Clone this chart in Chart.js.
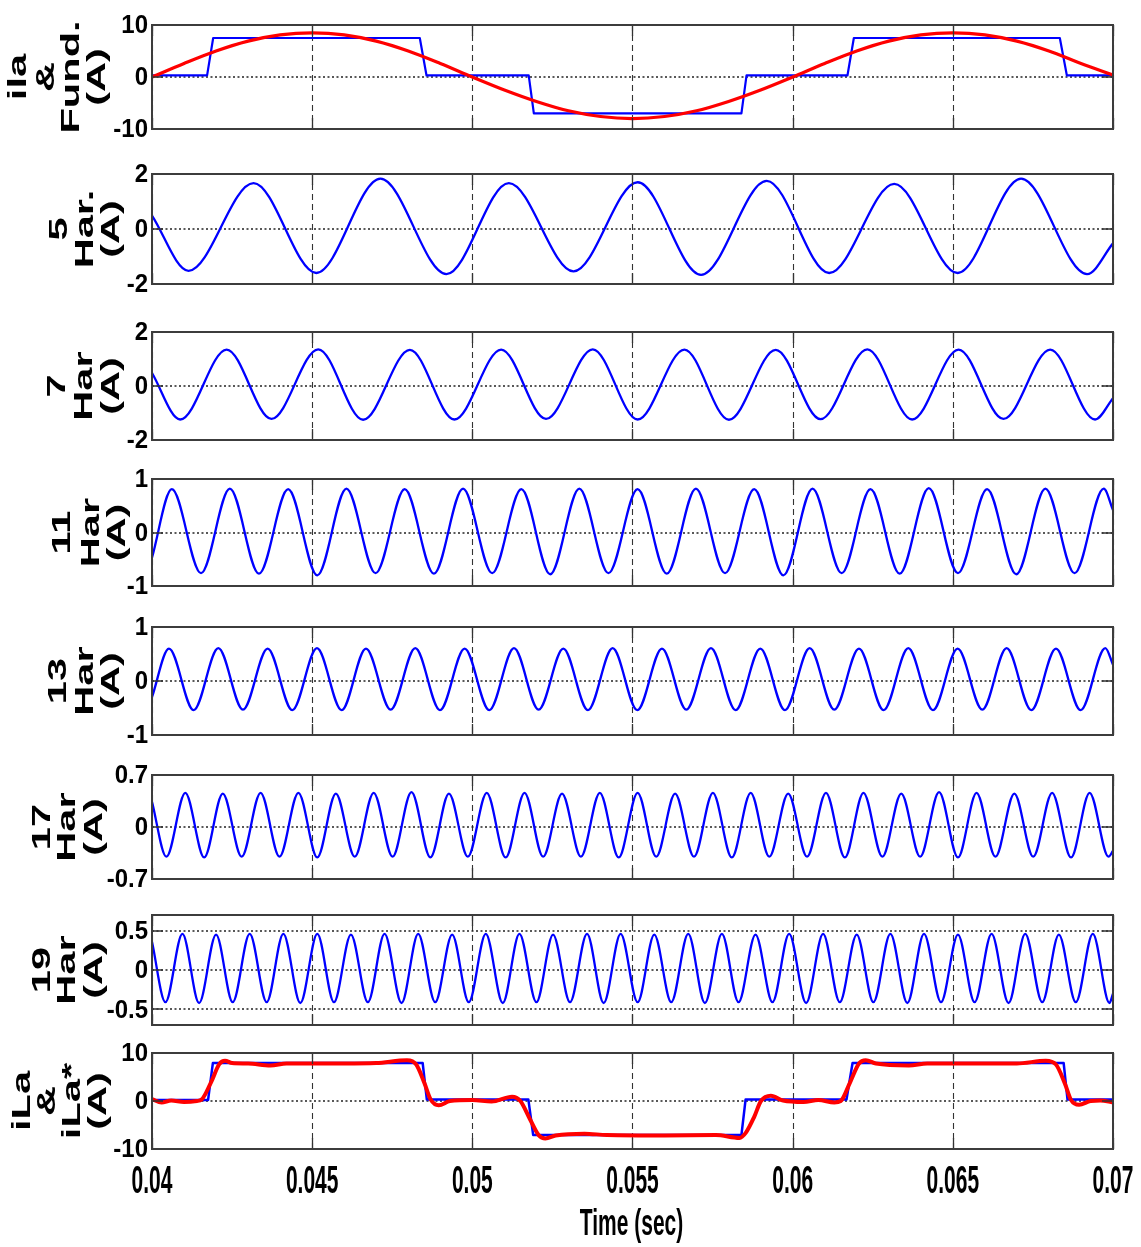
<!DOCTYPE html>
<html>
<head>
<meta charset="utf-8">
<script src="https://cdn.jsdelivr.net/npm/chart.js"></script>
<style>
  html, body { margin: 0; padding: 0; background: #fff; }
  #wrap { position: relative; width: 1141px; height: 1247px; overflow: hidden; background: #fff; }
  #wrap canvas { position: absolute; left: 0; }
</style>
</head>
<body>
<div id="wrap"></div>
<script>
// ---- time axis -------------------------------------------------------------
const timeTicks = [0.04, 0.045, 0.05, 0.055, 0.06, 0.065, 0.07];
const timeTickLabels = ['0.04', '0.045', '0.05', '0.055', '0.06', '0.065', '0.07'];
const timeTitle = 'Time (sec)';

// ---- panel 1: load current ila and its fundamental ------------------------
const ilaTime = [0.04000, 0.04172, 0.04191, 0.04836, 0.04857, 0.05176, 0.05192, 0.05840, 0.05856, 0.06171, 0.06191, 0.06834, 0.06856, 0.07000];
const ilaAmp  = [0.3, 0.3, 7.5, 7.5, 0.3, 0.3, -7.0, -7.0, 0.3, 0.3, 7.5, 7.5, 0.3, 0.3];
const fundTime = [0.040, 0.041, 0.042, 0.043, 0.044, 0.045, 0.046, 0.047, 0.048, 0.049, 0.050,
                  0.051, 0.052, 0.053, 0.054, 0.055, 0.056, 0.057, 0.058, 0.059, 0.060,
                  0.061, 0.062, 0.063, 0.064, 0.065, 0.066, 0.067, 0.068, 0.069, 0.070];
const fundAmp  = [0, 2.6, 5.0, 6.9, 8.1, 8.5, 8.1, 6.9, 5.0, 2.6, 0,
                  -2.5, -4.7, -6.5, -7.6, -8.0, -7.6, -6.5, -4.7, -2.5, 0,
                  2.6, 5.0, 6.9, 8.1, 8.5, 8.1, 6.9, 5.0, 2.6, 0.4];
const currentTicks = [-10, 0, 10];
const currentTickLabels = ['-10', '0', '10'];

// ---- harmonic components: end values and successive peaks / troughs -------
const h5Time = [0.04000, 0.04114, 0.04317, 0.04513, 0.04713, 0.04919, 0.05114, 0.05316, 0.05516,
                0.05714, 0.05919, 0.06114, 0.06317, 0.06515, 0.06713, 0.06919, 0.07000];
const h5Amp  = [0.49, -1.52, 1.67, -1.60, 1.83, -1.64, 1.67, -1.54, 1.70,
                -1.67, 1.75, -1.60, 1.64, -1.60, 1.83, -1.64, -0.52];
const h5Ticks = [-2, 0, 2];
const h5TickLabels = ['-2', '0', '2'];

const h7Time = [0.04000, 0.04088, 0.04233, 0.04373, 0.04519, 0.04659, 0.04805, 0.04944, 0.05090, 0.05230,
                0.05376, 0.05516, 0.05662, 0.05801, 0.05947, 0.06087, 0.06233, 0.06373, 0.06518, 0.06658,
                0.06804, 0.06944, 0.07000];
const h7Amp  = [0.48, -1.24, 1.35, -1.22, 1.36, -1.25, 1.34, -1.24, 1.35, -1.22,
                1.36, -1.24, 1.35, -1.25, 1.34, -1.23, 1.36, -1.24, 1.35, -1.22,
                1.35, -1.24, -0.45];
const h7Ticks = [-2, 0, 2];
const h7TickLabels = ['-2', '0', '2'];

const h11Time = [0.04000, 0.04062, 0.04153, 0.04243, 0.04334, 0.04425, 0.04516, 0.04607, 0.04698, 0.04789,
                 0.04880, 0.04971, 0.05062, 0.05153, 0.05243, 0.05334, 0.05425, 0.05516, 0.05607, 0.05698,
                 0.05789, 0.05880, 0.05971, 0.06062, 0.06153, 0.06243, 0.06334, 0.06425, 0.06516, 0.06607,
                 0.06698, 0.06789, 0.06880, 0.06971, 0.07000];
const h11Amp  = [-0.47, 0.81, -0.76, 0.82, -0.77, 0.81, -0.80, 0.82, -0.76, 0.81,
                 -0.77, 0.82, -0.76, 0.81, -0.78, 0.82, -0.76, 0.81, -0.77, 0.82,
                 -0.76, 0.81, -0.80, 0.82, -0.76, 0.81, -0.77, 0.83, -0.76, 0.81,
                 -0.78, 0.82, -0.76, 0.82, 0.42];
const h11Ticks = [-1, 0, 1];
const h11TickLabels = ['-1', '0', '1'];

const h13Time = [0.04000, 0.04053, 0.04130, 0.04207, 0.04284, 0.04361, 0.04438, 0.04515, 0.04592, 0.04668,
                 0.04745, 0.04822, 0.04899, 0.04976, 0.05053, 0.05130, 0.05207, 0.05284, 0.05361, 0.05438,
                 0.05515, 0.05592, 0.05668, 0.05745, 0.05822, 0.05899, 0.05976, 0.06053, 0.06130, 0.06207,
                 0.06284, 0.06361, 0.06438, 0.06515, 0.06592, 0.06668, 0.06745, 0.06822, 0.06899, 0.06976,
                 0.07000];
const h13Amp  = [-0.30, 0.60, -0.54, 0.61, -0.53, 0.60, -0.54, 0.61, -0.54, 0.60,
                 -0.53, 0.61, -0.54, 0.60, -0.54, 0.61, -0.53, 0.60, -0.54, 0.61,
                 -0.54, 0.60, -0.53, 0.61, -0.54, 0.60, -0.54, 0.61, -0.53, 0.60,
                 -0.54, 0.61, -0.54, 0.60, -0.53, 0.61, -0.54, 0.60, -0.54, 0.61,
                 0.30];
const h13Ticks = [-1, 0, 1];
const h13TickLabels = ['-1', '0', '1'];

const h17Time = [0.04000, 0.04045, 0.04104, 0.04163, 0.04221, 0.04280, 0.04339, 0.04398, 0.04457, 0.04516,
                 0.04574, 0.04633, 0.04692, 0.04751, 0.04810, 0.04869, 0.04927, 0.04986, 0.05045, 0.05104,
                 0.05163, 0.05221, 0.05280, 0.05339, 0.05398, 0.05457, 0.05516, 0.05574, 0.05633, 0.05692,
                 0.05751, 0.05810, 0.05869, 0.05927, 0.05986, 0.06045, 0.06104, 0.06163, 0.06221, 0.06280,
                 0.06339, 0.06398, 0.06457, 0.06516, 0.06574, 0.06633, 0.06692, 0.06751, 0.06810, 0.06869,
                 0.06927, 0.06986, 0.07000];
const h17Amp  = [0.34, -0.40, 0.46, -0.41, 0.45, -0.40, 0.46, -0.40, 0.46, -0.41,
                 0.45, -0.40, 0.46, -0.40, 0.47, -0.41, 0.45, -0.40, 0.46, -0.41,
                 0.46, -0.40, 0.45, -0.40, 0.46, -0.41, 0.46, -0.40, 0.45, -0.40,
                 0.46, -0.41, 0.46, -0.40, 0.45, -0.40, 0.46, -0.41, 0.46, -0.40,
                 0.45, -0.40, 0.47, -0.41, 0.46, -0.40, 0.45, -0.40, 0.46, -0.41,
                 0.46, -0.40, -0.32];
const h17Ticks = [-0.7, 0, 0.7];
const h17TickLabels = ['-0.7', '0', '0.7'];

const h19Time = [0.04000, 0.04042, 0.04095, 0.04147, 0.04200, 0.04252, 0.04305, 0.04358, 0.04410, 0.04463,
                 0.04516, 0.04568, 0.04621, 0.04674, 0.04726, 0.04779, 0.04831, 0.04884, 0.04937, 0.04989,
                 0.05042, 0.05095, 0.05147, 0.05200, 0.05252, 0.05305, 0.05358, 0.05410, 0.05463, 0.05516,
                 0.05568, 0.05621, 0.05674, 0.05726, 0.05779, 0.05831, 0.05884, 0.05937, 0.05989, 0.06042,
                 0.06095, 0.06147, 0.06200, 0.06252, 0.06305, 0.06358, 0.06410, 0.06463, 0.06516, 0.06568,
                 0.06621, 0.06674, 0.06726, 0.06779, 0.06831, 0.06884, 0.06937, 0.06989, 0.07000];
const h19Amp  = [0.36, -0.41, 0.46, -0.42, 0.45, -0.41, 0.46, -0.41, 0.46, -0.42,
                 0.46, -0.41, 0.45, -0.41, 0.46, -0.42, 0.46, -0.41, 0.45, -0.41,
                 0.46, -0.42, 0.46, -0.41, 0.45, -0.41, 0.46, -0.42, 0.46, -0.41,
                 0.45, -0.41, 0.46, -0.42, 0.46, -0.41, 0.45, -0.41, 0.46, -0.42,
                 0.46, -0.41, 0.45, -0.41, 0.46, -0.42, 0.46, -0.41, 0.45, -0.41,
                 0.46, -0.42, 0.46, -0.41, 0.45, -0.41, 0.46, -0.42, -0.30];
const h19Ticks = [-0.5, 0, 0.5];
const h19TickLabels = ['-0.5', '0', '0.5'];

// ---- panel 8: load current iLa and the rebuilt reference iLa* -------------
const iLaTime = [0.04000, 0.04175, 0.04190, 0.04845, 0.04858, 0.05175, 0.05190, 0.05840, 0.05853, 0.06168, 0.06187, 0.06846, 0.06858, 0.07000];
const iLaAmp  = [0.2, 0.2, 7.9, 7.9, 0.3, 0.3, -7.1, -7.1, 0.3, 0.3, 7.9, 7.9, 0.3, 0.3];
const iLaRefTime = [0.04000, 0.04030, 0.04060, 0.04100, 0.04140, 0.04155, 0.04185, 0.04210, 0.04228, 0.04250,
                    0.04300, 0.04370, 0.04420, 0.04600, 0.04700, 0.04796, 0.04825, 0.04850, 0.04870, 0.04895,
                    0.04930, 0.05000, 0.05060, 0.05124, 0.05150, 0.05180, 0.05207, 0.05228, 0.05260, 0.05350,
                    0.05420, 0.05600, 0.05760, 0.05834, 0.05854, 0.05880, 0.05901, 0.05932, 0.05970, 0.06034,
                    0.06080, 0.06130, 0.06150, 0.06180, 0.06207, 0.06228, 0.06260, 0.06363, 0.06420, 0.06600,
                    0.06700, 0.06790, 0.06822, 0.06850, 0.06869, 0.06894, 0.06930, 0.06960, 0.07000];
const iLaRefAmp  = [0.4, -0.3, 0.1, -0.2, 0.0, 0.3, 4.0, 7.7, 8.4, 7.9,
                    7.8, 7.4, 7.8, 7.8, 7.9, 8.5, 7.6, 3.8, 0.3, -0.9,
                    0.0, 0.2, -0.1, 0.9, 0.0, -3.8, -7.1, -7.8, -7.2, -6.8,
                    -7.1, -7.2, -7.1, -7.7, -6.6, -3.3, 0.0, 1.1, 0.1, -0.2,
                    0.2, -0.3, 0.0, 4.0, 7.8, 8.5, 7.8, 7.4, 7.8, 7.8,
                    7.8, 8.4, 7.6, 3.6, 0.2, -0.8, 0.0, 0.1, -0.3];

// ---- drawing ---------------------------------------------------------------
const BLUE = '#0000ff';
const RED = '#ff0000';
const FONT = '"Liberation Sans", Arial, Helvetica, sans-serif';

const series = (t, v) => t.map((x, i) => ({ x, y: v[i] }));

function line(t, v, color, width, smooth) {
  return {
    data: series(t, v),
    borderColor: color,
    borderWidth: width,
    pointRadius: 0,
    fill: false,
    tension: smooth ? 0.4 : 0,
    cubicInterpolationMode: smooth ? 'monotone' : 'default',
    borderCapStyle: 'round',
    borderJoinStyle: 'round'
  };
}

const panels = [
  { top: 25,   bottom: 129,  ticks: currentTicks, labels: currentTickLabels,
    title: ['ila', '&', 'Fund.', '(A)'], titleX: [19, 47, 72, 98],
    datasets: [line(fundTime, fundAmp, RED, 3.2, true), line(ilaTime, ilaAmp, BLUE, 2.2, false)] },
  { top: 174,  bottom: 284,  ticks: h5Ticks, labels: h5TickLabels,
    title: ['5', 'Har.', '(A)'], titleX: [60, 86, 112],
    datasets: [line(h5Time, h5Amp, BLUE, 2.3, true)] },
  { top: 332,  bottom: 440,  ticks: h7Ticks, labels: h7TickLabels,
    title: ['7', 'Har', '(A)'], titleX: [58, 85, 112],
    datasets: [line(h7Time, h7Amp, BLUE, 2.3, true)] },
  { top: 479,  bottom: 586,  ticks: h11Ticks, labels: h11TickLabels,
    title: ['11', 'Har', '(A)'], titleX: [63, 92, 118],
    datasets: [line(h11Time, h11Amp, BLUE, 2.3, true)] },
  { top: 627,  bottom: 735,  ticks: h13Ticks, labels: h13TickLabels,
    title: ['13', 'Har', '(A)'], titleX: [59, 86, 112],
    datasets: [line(h13Time, h13Amp, BLUE, 2.3, true)] },
  { top: 775,  bottom: 879,  ticks: h17Ticks, labels: h17TickLabels,
    title: ['17', 'Har', '(A)'], titleX: [43, 68, 95],
    datasets: [line(h17Time, h17Amp, BLUE, 2.3, true)] },
  { top: 915,  bottom: 1025, ticks: h19Ticks, labels: h19TickLabels,
    title: ['19', 'Har', '(A)'], titleX: [43, 68, 95],
    datasets: [line(h19Time, h19Amp, BLUE, 2.3, true)] },
  { top: 1053, bottom: 1149, ticks: currentTicks, labels: currentTickLabels,
    title: ['iLa', '&', 'iLa*', '(A)'], titleX: [23, 48, 73, 99], timeAxis: true,
    datasets: [line(iLaRefTime, iLaRefAmp, RED, 4, true), line(iLaTime, iLaAmp, BLUE, 2.5, false)] }
];

// text drawn with an anisotropic scale (tall, narrow lettering)
function stretchedText(ctx, text, x, y, o) {
  ctx.save();
  ctx.translate(x, y);
  if (o.rotate) ctx.rotate(o.rotate);
  ctx.scale(o.sx || 1, o.sy || 1);
  ctx.font = o.font;
  ctx.textAlign = o.align || 'center';
  ctx.textBaseline = o.baseline || 'alphabetic';
  ctx.fillStyle = '#000';
  ctx.fillText(text, 0, 0);
  ctx.restore();
}

function decor(p) {
  return {
    id: 'panelDecor',
    beforeDatasetsDraw(chart) {
      const { ctx, chartArea: a, scales: { x, y } } = chart;
      ctx.save();
      // vertical grid (dash-dot look)
      ctx.strokeStyle = '#333';
      ctx.lineWidth = 1.1;
      ctx.setLineDash([6, 4]);
      x.ticks.forEach(t => {
        const px = Math.round(x.getPixelForValue(t.value)) + 0.5;
        ctx.beginPath(); ctx.moveTo(px, a.top); ctx.lineTo(px, a.bottom); ctx.stroke();
      });
      // horizontal dotted grid
      ctx.strokeStyle = '#222';
      ctx.lineWidth = 1.6;
      ctx.setLineDash([2, 2.5]);
      y.ticks.forEach(t => {
        const py = Math.round(y.getPixelForValue(t.value));
        ctx.beginPath(); ctx.moveTo(a.left, py); ctx.lineTo(a.right, py); ctx.stroke();
      });
      ctx.restore();
    },
    afterDatasetsDraw(chart) {
      const { ctx, chartArea: a, scales: { x, y } } = chart;
      ctx.save();
      ctx.strokeStyle = '#333';
      ctx.lineWidth = 1.3;
      ctx.setLineDash([]);
      const L = 11;
      x.ticks.forEach(t => {
        const px = Math.round(x.getPixelForValue(t.value)) + 0.5;
        ctx.beginPath();
        ctx.moveTo(px, a.top); ctx.lineTo(px, a.top + L);
        ctx.moveTo(px, a.bottom); ctx.lineTo(px, a.bottom - L);
        ctx.stroke();
      });
      y.ticks.forEach(t => {
        const py = Math.round(y.getPixelForValue(t.value));
        ctx.beginPath();
        ctx.moveTo(a.left, py); ctx.lineTo(a.left + L, py);
        ctx.moveTo(a.right, py); ctx.lineTo(a.right - L, py);
        ctx.stroke();
      });
      // axes box
      ctx.strokeStyle = '#3c3c3c';
      ctx.lineWidth = 2;
      ctx.strokeRect(a.left, a.top, a.right - a.left, a.bottom - a.top);
      ctx.restore();
    },
    afterDraw(chart) {
      const { ctx, chartArea: a, scales: { x, y } } = chart;
      // y tick labels
      p.ticks.forEach((v, i) => {
        stretchedText(ctx, p.labels[i], a.left - 4, y.getPixelForValue(v) + 1,
          { font: 'bold 24px ' + FONT, align: 'right', baseline: 'middle', sy: 1.1 });
      });
      // rotated y title, one column per line
      const cy = (a.top + a.bottom) / 2;
      p.title.forEach((txt, i) => {
        stretchedText(ctx, txt, p.titleX[i], cy,
          { font: 'bold 26px ' + FONT, rotate: -Math.PI / 2, sx: 1.6, align: 'center', baseline: 'middle' });
      });
      if (p.timeAxis) {
        timeTicks.forEach((v, i) => {
          stretchedText(ctx, timeTickLabels[i], x.getPixelForValue(v), a.bottom + 44,
            { font: 'bold 21px ' + FONT, sy: 1.85 });
        });
        stretchedText(ctx, timeTitle, (a.left + a.right) / 2 - 1, a.bottom + 86,
          { font: 'bold 21px ' + FONT, sy: 1.8 });
      }
    }
  };
}

const wrap = document.getElementById('wrap');
panels.forEach(p => {
  const padTop = 22;
  const padBottom = p.timeAxis ? 1247 - p.bottom : 22;
  const canvas = document.createElement('canvas');
  const h = (p.bottom - p.top) + padTop + padBottom;
  canvas.width = 1141;
  canvas.height = h;
  canvas.style.width = '1141px';
  canvas.style.height = h + 'px';
  canvas.style.top = (p.top - padTop) + 'px';
  wrap.appendChild(canvas);

  const yLim = p.ticks[p.ticks.length - 1] === 0.5 ? 0.7 : p.ticks[p.ticks.length - 1];

  new Chart(canvas, {
    type: 'line',
    data: { datasets: p.datasets },
    options: {
      responsive: false,
      animation: false,
      devicePixelRatio: 1,
      events: [],
      layout: { padding: { left: 0, right: 28, top: padTop, bottom: padBottom } },
      plugins: { legend: { display: false }, tooltip: { enabled: false } },
      elements: { point: { radius: 0 } },
      scales: {
        x: {
          type: 'linear', min: 0.04, max: 0.07,
          afterBuildTicks: s => { s.ticks = timeTicks.map(v => ({ value: v })); },
          ticks: { display: false },
          grid: { display: false, drawTicks: false },
          border: { display: false },
          afterFit: s => { s.height = 0; }
        },
        y: {
          type: 'linear', min: -yLim, max: yLim,
          afterBuildTicks: s => { s.ticks = p.ticks.map(v => ({ value: v })); },
          ticks: { display: false },
          grid: { display: false, drawTicks: false },
          border: { display: false },
          afterFit: s => { s.width = 152; }
        }
      }
    },
    plugins: [decor(p)]
  });
});
</script>
</body>
</html>
